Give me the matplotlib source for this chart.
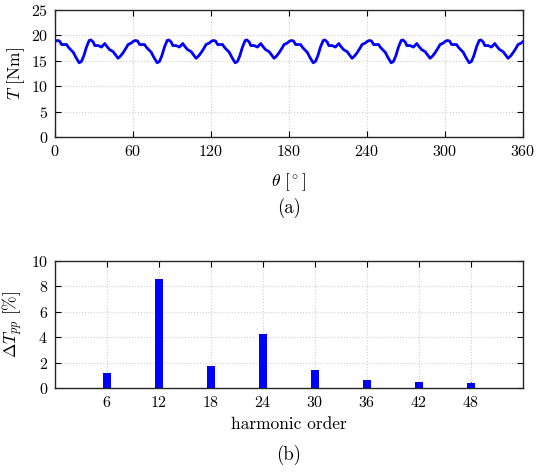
import numpy as np
import matplotlib
matplotlib.use("Agg")
import matplotlib.pyplot as plt

plt.rcParams['font.family'] = 'serif'
plt.rcParams['font.serif'] = ['cmr10', 'DejaVu Serif']
plt.rcParams['mathtext.fontset'] = 'cm'
plt.rcParams['axes.formatter.use_mathtext'] = True
plt.rcParams['font.size'] = 11

# torque over one 60 deg period
theta_period = [0, 1.8, 3.5, 5.1, 7.0, 8.9, 10.2, 12.0, 14.0, 16.0, 18.6, 20.4,
                22.2, 24.2, 26.3, 27.6, 29.4, 30.6, 33.2, 35.7, 38.3, 40.0, 42.0,
                44.7, 46.5, 48.5, 50.3, 52.4, 54.4, 56.2, 58.7]
torque_period = [18.8, 19.0, 18.9, 18.2, 18.2, 18.2, 17.7, 17.2, 16.7, 15.7, 14.6, 14.9,
                 16.0, 17.7, 19.0, 19.1, 18.7, 18.0, 18.0, 17.7, 18.4, 17.8, 17.2,
                 16.8, 16.2, 15.5, 15.9, 16.6, 17.4, 18.2, 18.5]
n_periods = 6

harm_order = [6, 12, 18, 24, 30, 36, 42, 48]
ripple_pct = [1.15, 8.6, 1.7, 4.25, 1.45, 0.65, 0.5, 0.4]

theta = np.concatenate([np.array(theta_period) + 60 * k for k in range(n_periods)] + [[360]])
torque = np.concatenate([torque_period] * n_periods + [[torque_period[0]]])

fig = plt.figure(figsize=(5.36, 4.75), dpi=100)
W, H = 536, 475
ax1 = fig.add_axes([55 / W, 1 - 137 / H, 468 / W, 127 / H])
ax2 = fig.add_axes([55 / W, 1 - 388 / H, 468 / W, 127 / H])

def style(ax):
    ax.grid(True, linestyle=':', color='#cfcfcf', linewidth=0.8)
    ax.set_axisbelow(True)
    ax.tick_params(direction='in', top=True, right=True, length=4, width=0.8,
                   labelsize=11.5, pad=5)
    for s in ax.spines.values():
        s.set_color('#262626')
        s.set_linewidth(1.0)

ax1.plot(theta, torque, color='#0000ff', linewidth=2.0)
ax1.set_xlim(0, 360)
ax1.set_ylim(0, 25)
ax1.set_xticks(range(0, 361, 60))
ax1.set_yticks(range(0, 26, 5))
ax1.set_xlabel(r'$\theta\ [^\circ]$', fontsize=12.5, labelpad=9)
ax1.set_ylabel(r'$T$ [Nm]', fontsize=12.5, labelpad=3)
style(ax1)

ax2.bar(harm_order, ripple_pct, width=0.85, color='#0000ff')
ax2.set_xlim(0, 54)
ax2.set_ylim(0, 10)
ax2.set_xticks(harm_order)
ax2.set_yticks(range(0, 11, 2))
ax2.set_xlabel('harmonic order', fontsize=12.5, labelpad=5)
ax2.set_ylabel(r'$\Delta T_{pp}\ [\%]$', fontsize=12.5, labelpad=4)
style(ax2)

fig.text(289 / W, 1 - 208 / H, '(a)', ha='center', va='center', fontsize=13.5)
fig.text(289 / W, 1 - 455 / H, '(b)', ha='center', va='center', fontsize=13.5)

fig.savefig('out.png', dpi=100)
